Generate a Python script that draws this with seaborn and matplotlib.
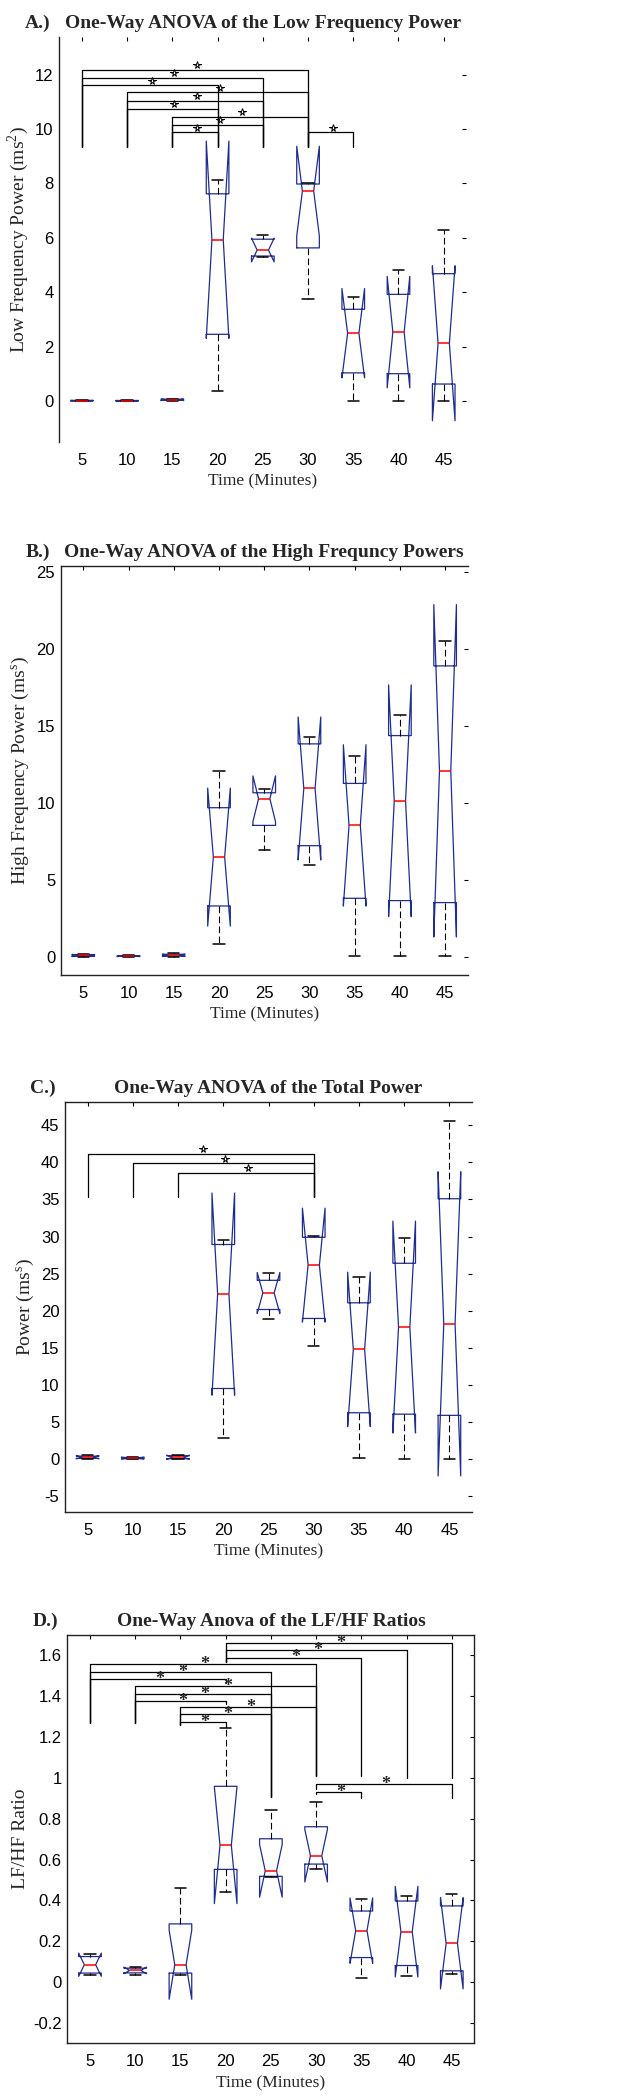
import matplotlib
matplotlib.use("Agg")
import matplotlib.pyplot as plt
import matplotlib.transforms as mtransforms
import numpy as np
import pandas as pd
import seaborn as sns

times = [5, 10, 15, 20, 25, 30, 35, 40, 45]

# five readings per time point (min, q1, median, q3, max)
lf_power = [
    [0.0, 0.005, 0.01, 0.015, 0.02],
    [0.0, 0.004, 0.008, 0.012, 0.016],
    [0.0, 0.02, 0.04, 0.06, 0.08],
    [0.38, 2.45, 5.93, 7.62, 8.12],
    [5.30, 5.33, 5.55, 5.95, 6.12],
    [3.76, 5.63, 7.72, 7.98, 8.02],
    [0.0, 1.03, 2.49, 3.37, 3.83],
    [0.0, 1.00, 2.53, 3.92, 4.80],
    [0.0, 0.62, 2.12, 4.68, 6.30],
]
hf_power = [
    [0.0, 0.03, 0.08, 0.12, 0.16],
    [0.0, 0.01, 0.03, 0.05, 0.07],
    [0.0, 0.04, 0.08, 0.15, 0.22],
    [0.84, 3.29, 6.47, 9.68, 12.08],
    [6.91, 8.53, 10.26, 10.65, 10.87],
    [5.95, 7.21, 10.93, 13.83, 14.29],
    [0.06, 3.79, 8.53, 11.26, 13.05],
    [0.05, 3.64, 10.13, 14.37, 15.69],
    [0.05, 3.51, 12.08, 18.90, 20.55],
]
total_power = [
    [0.0, 0.10, 0.25, 0.40, 0.50],
    [0.0, 0.05, 0.15, 0.22, 0.30],
    [0.0, 0.05, 0.25, 0.45, 0.55],
    [2.8, 9.52, 22.24, 28.93, 29.5],
    [18.9, 20.17, 22.4, 24.1, 25.1],
    [15.3, 18.96, 26.15, 29.9, 30.05],
    [0.1, 6.25, 14.8, 21.07, 24.6],
    [0.0, 6.06, 17.8, 26.4, 29.8],
    [0.0, 5.9, 18.23, 35.1, 45.6],
]
lf_hf_ratio = [
    [0.036, 0.044, 0.085, 0.125, 0.137],
    [0.035, 0.045, 0.057, 0.068, 0.072],
    [0.037, 0.044, 0.085, 0.285, 0.46],
    [0.443, 0.552, 0.67, 0.959, 1.244],
    [0.513, 0.518, 0.545, 0.702, 0.842],
    [0.555, 0.578, 0.619, 0.761, 0.883],
    [0.022, 0.120, 0.252, 0.348, 0.407],
    [0.031, 0.081, 0.247, 0.397, 0.420],
    [0.039, 0.055, 0.190, 0.373, 0.432],
]

# significance brackets: compared time points, bar height, left/right leg ends
lf_pairs = [(5, 30), (5, 25), (5, 20), (10, 30), (10, 25), (10, 20),
            (15, 30), (15, 25), (15, 20), (30, 35)]
lf_bar_y = [12.18, 11.88, 11.61, 11.35, 11.04, 10.74, 10.46, 10.16, 9.88, 9.88]
lf_leg_left = [9.35] * 10
lf_leg_right = [9.35] * 10

tp_pairs = [(5, 30), (10, 30), (15, 30)]
tp_bar_y = [41.15, 39.85, 38.6]
tp_leg_left = [35.4, 35.4, 35.4]
tp_leg_right = [35.4, 35.4, 35.4]

ratio_pairs = [(20, 45), (20, 40), (20, 35), (5, 30), (5, 25), (5, 20), (10, 30),
               (10, 25), (10, 20), (15, 30), (15, 25), (15, 20), (30, 45), (30, 35)]
ratio_bar_y = [1.662, 1.628, 1.590, 1.559, 1.520, 1.486, 1.450,
               1.412, 1.376, 1.347, 1.311, 1.274, 0.968, 0.932]
ratio_leg_left = [1.57, 1.57, 1.57, 1.27, 1.27, 1.27, 1.27,
                  1.27, 1.27, 1.26, 1.26, 1.26, 0.945, 0.92]
ratio_leg_right = [1.00, 1.00, 1.01, 1.01, 0.907, 1.464, 1.01,
                   0.907, 1.36, 1.01, 0.907, 1.25, 0.90, 0.90]

sns.set_style("white")
plt.rcParams["font.family"] = ["Liberation Sans", "DejaVu Sans"]
plt.rcParams["mathtext.fontset"] = "custom"
plt.rcParams["mathtext.rm"] = "Liberation Serif"
SERIF = ["Liberation Serif", "DejaVu Serif"]

BOX_BLUE = "#1f2d8c"

fig = plt.figure(figsize=(6.41, 21.0), dpi=100)


def draw_panel(rect, values, ylim, yticks, title, label, ylabel, spines):
    ax = fig.add_axes(rect)
    df = pd.DataFrame({
        "time": [t for t, vals in zip(times, values) for _ in vals],
        "value": [v for vals in values for v in vals],
    })
    sns.boxplot(data=df, x="time", y="value", order=times, ax=ax,
                notch=True, fill=False, width=0.5, whis=(0, 100),
                showfliers=False, color=BOX_BLUE, linewidth=0.9,
                boxprops=dict(color=BOX_BLUE, linewidth=0.9),
                medianprops=dict(color="red", linewidth=1.1),
                whiskerprops=dict(color="black", linewidth=0.8, linestyle=(0, (6, 3))),
                capprops=dict(color="black", linewidth=1.1))
    ax.set_xlim(-0.5, 8.5)
    ax.set_ylim(*ylim)
    ax.set_yticks(yticks)
    ax.set_yticklabels([f"{t:g}" for t in yticks])
    ax.set_xticks(range(len(times)))
    ax.set_xticklabels([str(t) for t in times])
    ax.tick_params(which="both", direction="in", top=True, right=True,
                   length=3, width=0.8, labelsize=12, colors="black")
    ax.tick_params(axis="x", pad=8)
    ax.tick_params(axis="y", pad=4)
    for side in ["left", "right", "top", "bottom"]:
        ax.spines[side].set_visible(side in spines)
        ax.spines[side].set_color("#222222")
        ax.spines[side].set_linewidth(1.0)
    ax.set_xlabel("Time (Minutes)", family=SERIF, fontsize=12.5, labelpad=4)
    ax.set_ylabel(ylabel, family=SERIF, fontsize=14, labelpad=3)
    ax.set_title(title, family=SERIF, fontsize=14, fontweight="bold", pad=6.5)
    ax.annotate(label, xy=(0, 1), xycoords="axes fraction", xytext=(-25, 6.5),
                textcoords="offset points", ha="left", va="baseline",
                family=SERIF, fontsize=14, fontweight="bold")
    return ax


def draw_brackets(ax, pairs, bar_y, leg_left, leg_right, star):
    star_open = mtransforms.offset_copy(ax.transData, fig=fig, x=1.5, y=3.5, units="points")
    star_text = mtransforms.offset_copy(ax.transData, fig=fig, x=1.5, y=-3.5, units="points")
    for (a, b), h, lo_a, lo_b in zip(pairs, bar_y, leg_left, leg_right):
        i, j = times.index(a), times.index(b)
        ax.plot([i, i, j, j], [lo_a, h, h, lo_b], color="black", lw=0.9)
        mid = (i + j) / 2
        if star == "open":
            ax.plot(mid, h, marker="*", ms=5.5, mfc="white", mec="black",
                    mew=0.7, transform=star_open)
        else:
            ax.text(mid, h, "*", transform=star_text, ha="center", va="baseline",
                    family=SERIF, fontsize=13, fontweight="bold")


ax_a = draw_panel([0.0925, 0.7897, 0.635, 0.1928], lf_power, (-1.5, 13.4),
                  [0, 2, 4, 6, 8, 10, 12],
                  "One-Way ANOVA of the Low Frequency Power", "A.)",
                  r"Low Frequency Power (ms$^\mathregular{2}$)", ["left"])
draw_brackets(ax_a, lf_pairs, lf_bar_y, lf_leg_left, lf_leg_right, "open")

ax_b = draw_panel([0.0947, 0.5357, 0.635, 0.1948], hf_power, (-1.2, 25.4),
                  [0, 5, 10, 15, 20, 25],
                  "One-Way ANOVA of the High Frequncy Powers", "B.)",
                  r"High Frequency Power (ms$^\mathregular{s}$)", ["left", "top", "bottom"])

ax_c = draw_panel([0.1014, 0.2801, 0.635, 0.1950], total_power, (-7.1, 48.1),
                  [-5, 0, 5, 10, 15, 20, 25, 30, 35, 40, 45],
                  "One-Way ANOVA of the Total Power", "C.)",
                  r"Power (ms$^\mathregular{s}$)", ["left", "top", "bottom"])
draw_brackets(ax_c, tp_pairs, tp_bar_y, tp_leg_left, tp_leg_right, "open")

ax_d = draw_panel([0.1051, 0.0270, 0.635, 0.1944], lf_hf_ratio, (-0.3, 1.7),
                  [-0.2, 0, 0.2, 0.4, 0.6, 0.8, 1, 1.2, 1.4, 1.6],
                  "One-Way Anova of the LF/HF Ratios", "D.)",
                  "LF/HF Ratio", ["left", "right", "top", "bottom"])
draw_brackets(ax_d, ratio_pairs, ratio_bar_y, ratio_leg_left, ratio_leg_right, "filled")

fig.savefig("out.png", dpi=100)
